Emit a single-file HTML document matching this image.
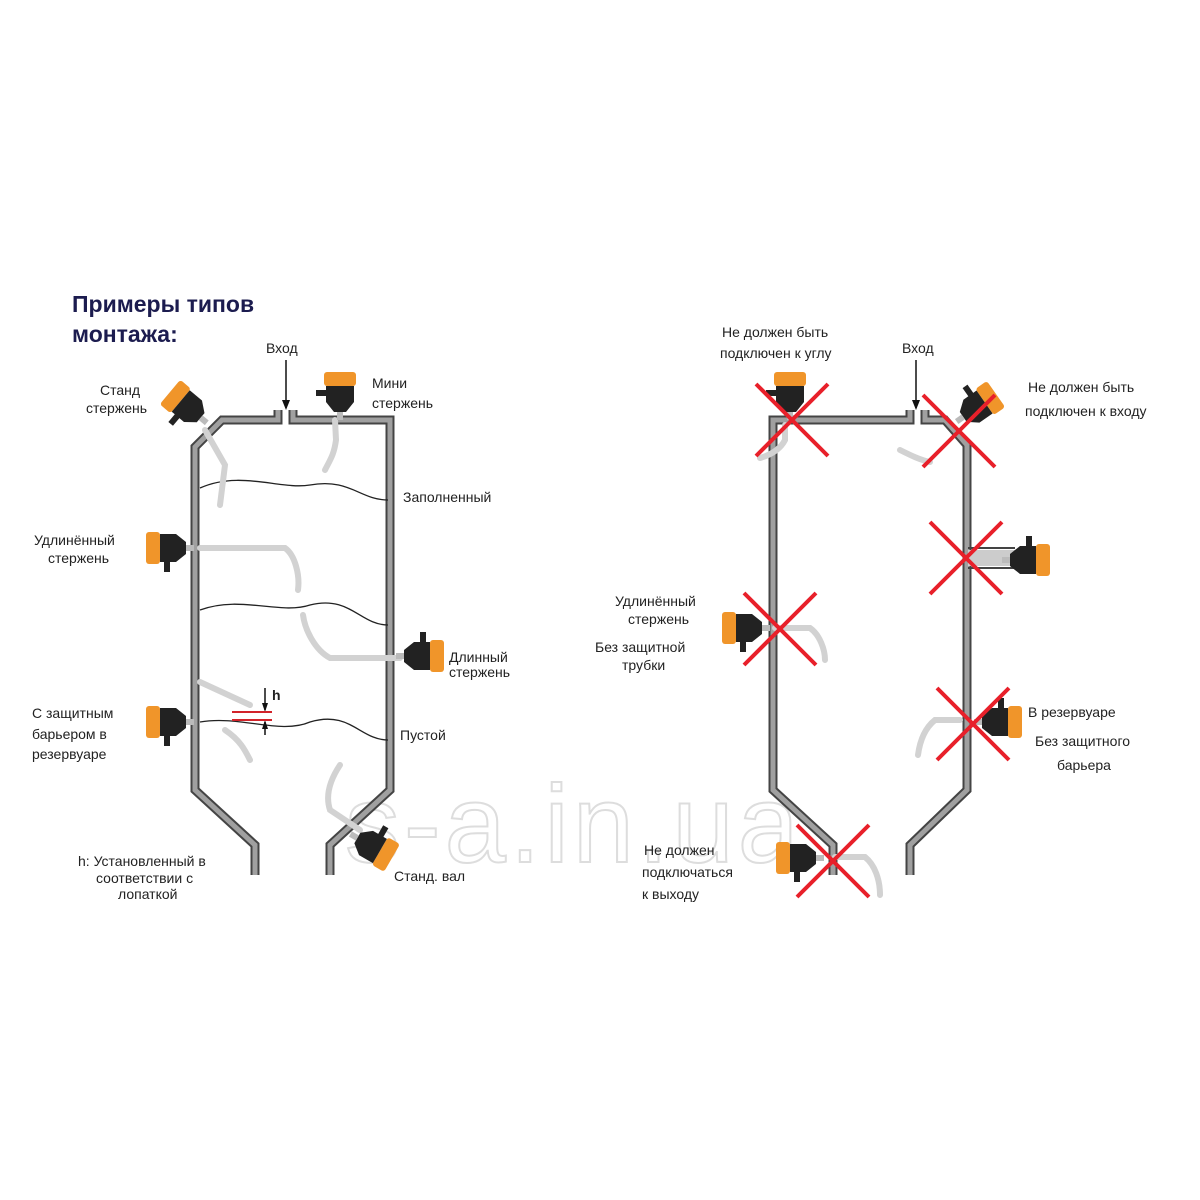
<!DOCTYPE html>
<html><head><meta charset="utf-8"><style>
body{margin:0;background:#fff;}
svg{display:block}
text{font-family:"Liberation Sans",sans-serif;fill:#222;font-size:14px}
</style></head><body>
<svg width="1200" height="1200" viewBox="0 0 1200 1200" xmlns="http://www.w3.org/2000/svg">
<defs>
<g id="sens">
 <rect x="0" y="-16" width="14" height="32" rx="3" fill="#f0952a"/>
 <path d="M14,-14 L30,-14 L40,-6 L40,6 L30,14 L24,14 L24,24 L18,24 L18,14 L14,14 Z" fill="#222"/>
 <rect x="40" y="-3" width="8" height="6" fill="#bbb"/>
</g>
</defs>
<text x="345" y="862" style="font-size:110px;fill:none;stroke:#ddd;stroke-width:2;letter-spacing:4px">s-a.in.ua</text>

<g fill="none" stroke-linejoin="miter">
<g stroke="#444" stroke-width="9">
<path d="M278,410 L278,420 L222,420 L195,447 L195,790 L255,845 L255,875"/>
<path d="M293,410 L293,420 L390,420 L390,790 L330,845 L330,875"/>
<path d="M910,410 L910,420 L773,420 L773,790 L833,845 L833,875"/>
<path d="M925,410 L925,420 L945,420 L967,445 L967,790 L910,845 L910,875"/>
</g>
<g stroke="#a0a0a0" stroke-width="5">
<path d="M278,410 L278,420 L222,420 L195,447 L195,790 L255,845 L255,875"/>
<path d="M293,410 L293,420 L390,420 L390,790 L330,845 L330,875"/>
<path d="M910,410 L910,420 L773,420 L773,790 L833,845 L833,875"/>
<path d="M925,410 L925,420 L945,420 L967,445 L967,790 L910,845 L910,875"/>
</g>
<g stroke="#222" stroke-width="1.3">
<path d="M200,488 C240,470 280,490 310,485 C350,478 360,500 388,500"/>
<path d="M200,610 C240,595 280,615 310,605 C350,595 360,625 388,625"/>
<path d="M200,722 C240,715 280,735 310,722 C350,710 360,740 388,740"/>
</g>
<g stroke="#d2d2d2" stroke-width="6" stroke-linecap="round">
<path d="M205,430 L225,465 L220,505"/>
<path d="M335,420 L336,440 C334,455 330,460 325,470"/>
<path d="M200,548 L285,548 C295,555 300,575 298,590"/>
<path d="M400,658 L330,658 C315,650 305,630 303,615"/>
<path d="M200,682 L250,705"/>
<path d="M225,730 C240,740 245,750 250,760"/>
<path d="M340,765 C330,780 325,795 330,810 L360,830"/>
<path d="M785,425 L785,440 C780,450 770,455 760,458"/>
<path d="M900,450 C910,455 920,460 930,462"/>
<path d="M775,628 L810,628 C820,635 825,650 825,660"/>
<path d="M960,720 L935,720 C925,728 920,740 918,755"/>
<path d="M835,857 L865,857 C875,865 880,880 880,895"/>
</g>
<path d="M968,548 L1015,548 M968,568 L1015,568" stroke="#444" stroke-width="2"/>
<rect x="968" y="550" width="47" height="16" fill="#ccc"/>
</g>

<g stroke="#111" stroke-width="1.5">
<line x1="286" y1="360" x2="286" y2="408"/>
<line x1="916" y1="360" x2="916" y2="408"/>
<line x1="265" y1="688" x2="265" y2="710"/>
<line x1="265" y1="735" x2="265" y2="722"/>
</g>
<path d="M282,400 L286,410 L290,400 Z M912,400 L916,410 L920,400 Z M262,703 L265,712 L268,703 Z M262,729 L265,720 L268,729 Z" fill="#111"/>
<g stroke="#d2232a" stroke-width="2"><line x1="232" y1="712" x2="272" y2="712"/><line x1="232" y1="720" x2="272" y2="720"/></g>

<use href="#sens" transform="translate(170,392) rotate(40)"/>
<use href="#sens" transform="translate(340,372) rotate(90)"/>
<use href="#sens" transform="translate(146,548)"/>
<use href="#sens" transform="translate(444,656) rotate(180)"/>
<use href="#sens" transform="translate(146,722)"/>
<use href="#sens" transform="translate(392,858) rotate(-150)"/>
<use href="#sens" transform="translate(790,372) rotate(90)"/>
<use href="#sens" transform="translate(996,394) rotate(145)"/>
<use href="#sens" transform="translate(1050,560) rotate(180)"/>
<use href="#sens" transform="translate(722,628)"/>
<use href="#sens" transform="translate(1022,722) rotate(180)"/>
<use href="#sens" transform="translate(776,858)"/>

<g stroke="#e8202a" stroke-width="4">
<path d="M756,384 L828,456 M828,384 L756,456"/>
<path d="M923,395 L995,467 M995,395 L923,467"/>
<path d="M930,522 L1002,594 M1002,522 L930,594"/>
<path d="M744,593 L816,665 M816,593 L744,665"/>
<path d="M937,688 L1009,760 M1009,688 L937,760"/>
<path d="M797,825 L869,897 M869,825 L797,897"/>
</g>

<text x="72" y="312" style="font-size:23px;font-weight:bold;fill:#1c1c4f">Примеры типов</text>
<text x="72" y="342" style="font-size:23px;font-weight:bold;fill:#1c1c4f">монтажа:</text>
<text x="266" y="353">Вход</text>
<text x="100" y="395">Станд</text>
<text x="86" y="413">стержень</text>
<text x="372" y="388">Мини</text>
<text x="372" y="408">стержень</text>
<text x="403" y="502">Заполненный</text>
<text x="34" y="545">Удлинённый</text>
<text x="48" y="563">стержень</text>
<text x="449" y="662">Длинный</text>
<text x="449" y="677">стержень</text>
<text x="272" y="700" style="font-weight:bold">h</text>
<text x="32" y="718">С защитным</text>
<text x="32" y="739">барьером в</text>
<text x="32" y="759">резервуаре</text>
<text x="400" y="740">Пустой</text>
<text x="78" y="866">h: Установленный в</text>
<text x="96" y="883">соответствии с</text>
<text x="118" y="899">лопаткой</text>
<text x="394" y="881">Станд. вал</text>
<text x="722" y="337">Не должен быть</text>
<text x="720" y="358">подключен к углу</text>
<text x="902" y="353">Вход</text>
<text x="1028" y="392">Не должен быть</text>
<text x="1025" y="416">подключен к входу</text>
<text x="615" y="606">Удлинённый</text>
<text x="628" y="624">стержень</text>
<text x="595" y="652">Без защитной</text>
<text x="622" y="670">трубки</text>
<text x="1028" y="717">В резервуаре</text>
<text x="1035" y="746">Без защитного</text>
<text x="1057" y="770">барьера</text>
<text x="644" y="855">Не должен</text>
<text x="642" y="877">подключаться</text>
<text x="642" y="899">к выходу</text>
</svg>
</body></html>
